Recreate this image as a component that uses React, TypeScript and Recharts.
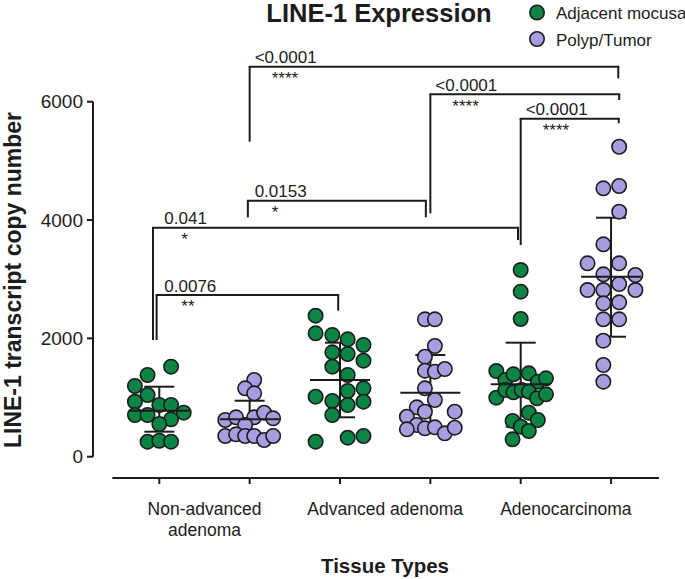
import React from 'react';
import { ScatterChart, Scatter, XAxis, YAxis, ReferenceLine, ErrorBar } from 'recharts';

const W = 685;
const H = 579;
const FONT = '"Liberation Sans", Arial, Helvetica, sans-serif';
const INK = '#1c1c1c';
const GREEN = '#0a8543';
const PURPLE = '#a99de1';

// ---------- data ----------
const categories = ['Non-advanced adenoma', 'Advanced adenoma', 'Adenocarcinoma'];
const categoryLines = [['Non-advanced', 'adenoma'], ['Advanced adenoma'], ['Adenocarcinoma']];
const seriesNames = ['Adjacent mocusa', 'Polyp/Tumor'];
const yTicks = [0, 2000, 4000, 6000];
const groupPositions = [1, 2, 3, 4, 5, 6];

const mucosaNonAdvanced = [1521, 1381, 1195, 1043, 930, 874, 874, 744, 705, 705, 632, 553, 254, 270, 254];
const mucosaNonAdvancedJitter = [0.13, -0.13, -0.27, -0.13, -0.27, 0, 0.13, 0.27, -0.27, -0.13, 0.13, 0, -0.13, 0, 0.13];

const tumorNonAdvanced = [1296, 1156, 1071, 620, 666, 666, 744, 649, 536, 350, 378, 350, 350, 282, 350];
const tumorNonAdvancedJitter = [0.05, -0.05, 0.05, -0.27, -0.15, 0.05, 0.16, 0.26, -0.05, -0.27, -0.15, -0.05, 0.05, 0.16, 0.26];

const mucosaAdvanced = [2383, 2085, 2057, 1984, 1888, 1764, 1736, 1623, 1521, 1381, 1014, 941, 1110, 1156, 874, 930, 705, 254, 321, 350];
const mucosaAdvancedJitter = [-0.27, -0.27, -0.085, 0.085, 0.26, -0.085, 0.085, 0.26, -0.085, 0.085, -0.27, -0.085, 0.085, 0.26, 0.085, 0.26, -0.085, -0.27, 0.085, 0.26];

const tumorAdvanced = [2322, 2322, 1871, 1690, 1454, 1437, 1482, 1156, 958, 835, 761, 761, 676, 536, 463, 480, 497, 395, 490];
const tumorAdvancedJitter = [-0.06, 0.05, 0.05, -0.06, -0.06, 0.05, 0.16, -0.06, 0.05, -0.15, -0.06, 0.27, -0.26, -0.15, -0.26, -0.06, 0.05, 0.16, 0.27];

const mucosaCarcinoma = [3155, 2789, 2327, 1448, 1296, 1392, 1409, 1268, 1325, 997, 1127, 1088, 1127, 1099, 987, 1054, 744, 620, 603, 507, 434, 294];
const mucosaCarcinomaJitter = [0, 0, 0, -0.27, -0.17, -0.08, 0.09, 0.19, 0.28, -0.27, -0.17, -0.08, 0.01, 0.09, 0.18, 0.28, 0.09, 0.19, -0.09, 0, 0.09, -0.09];

const tumorCarcinoma = [5239, 4536, 4575, 4141, 3590, 3268, 3268, 3082, 3071, 2919, 2817, 2817, 2817, 2592, 2609, 2322, 2322, 1961, 1550, 1268];
const tumorCarcinomaJitter = [0.09, -0.085, 0.09, 0.09, -0.085, -0.26, 0.09, -0.085, 0.27, 0.09, -0.26, -0.085, 0.27, -0.085, 0.09, -0.085, 0.09, -0.085, -0.085, -0.085];

const groupMeans = [778, 632, 1296, 1082, 1223, 3042];
const groupUpper = [1183, 946, 1927, 1719, 1927, 4039];
const groupLower = [423, 311, 666, 440, 507, 2028];

const brackets = [
  { p: '<0.0001', stars: '****', x1: 2.0, x2: 6.08, anchor: 2, y: 6592, y1End: 5324, y2End: 6395 },
  { p: '<0.0001', stars: '****', x1: 4.0, x2: 6.09, anchor: 4, y: 6125, y1End: 4114, y2End: 6029 },
  { p: '<0.0001', stars: '****', x1: 5.0, x2: 6.085, anchor: 5, y: 5713, y1End: 3578, y2End: 5635 },
  { p: '0.0153', stars: '*', x1: 1.98, x2: 3.95, anchor: 2, y: 4327, y1End: 4046, y2End: 4046 },
  { p: '0.041', stars: '*', x1: 0.93, x2: 4.97, anchor: 1, y: 3870, y1End: 1972, y2End: 3662 },
  { p: '0.0076', stars: '**', x1: 0.97, x2: 2.98, anchor: 1, y: 2733, y1End: 1972, y2End: 2468 },
];

// ---------- derived ----------
const XMIN = 0.266;
const XMAX = 6.553;
const YMIN = -360;
const YMAX = 7042.8;

const toPoints = (pos: number, vals: number[], jit: number[]) =>
  vals.map((v, i) => ({ x: pos + jit[i], y: v }));

const mucosaPoints = [
  ...toPoints(groupPositions[0], mucosaNonAdvanced, mucosaNonAdvancedJitter),
  ...toPoints(groupPositions[2], mucosaAdvanced, mucosaAdvancedJitter),
  ...toPoints(groupPositions[4], mucosaCarcinoma, mucosaCarcinomaJitter),
];
const tumorPoints = [
  ...toPoints(groupPositions[1], tumorNonAdvanced, tumorNonAdvancedJitter),
  ...toPoints(groupPositions[3], tumorAdvanced, tumorAdvancedJitter),
  ...toPoints(groupPositions[5], tumorCarcinoma, tumorCarcinomaJitter),
];
const summary = groupPositions.map((pos, i) => ({
  x: pos,
  y: groupMeans[i],
  err: [groupMeans[i] - groupLower[i], groupUpper[i] - groupMeans[i]],
}));

const xTicks: number[] = [];
categories.forEach((_, i) => {
  xTicks.push(groupPositions[2 * i], (groupPositions[2 * i] + groupPositions[2 * i + 1]) / 2, groupPositions[2 * i + 1]);
});

const dotShape = (fill: string) => (props: any) => (
  <circle cx={props.cx} cy={props.cy} r={7.2} fill={fill} stroke={INK} strokeWidth={1.6} />
);

const meanShape = (props: any) => (
  <line x1={props.cx - 30} x2={props.cx + 30} y1={props.cy} y2={props.cy} stroke={INK} strokeWidth={2} />
);

const XTick = (props: any) => {
  const { x, y, payload } = props;
  const v = payload.value;
  if (groupPositions.includes(v)) {
    return <line x1={x} x2={x} y1={y} y2={y + 6} stroke={INK} strokeWidth={2} />;
  }
  const idx = Math.round((v - groupPositions[0] - 0.5) / 2);
  const lines = categoryLines[idx] || [];
  return (
    <text x={x} y={y + 37} textAnchor="middle" fontSize={17.5} fill={INK} fontFamily={FONT}>
      {lines.map((l, i) => (
        <tspan key={i} x={x} dy={i === 0 ? 0 : 21}>
          {l}
        </tspan>
      ))}
    </text>
  );
};

const bracketTop = (b: any) => (props: any) => {
  const { x1, x2, y1, y2 } = props;
  const left = Math.min(x1, x2);
  const pxPerUnit = Math.abs(x2 - x1) / (b.x2 - b.x1);
  const anchorPx = left + (b.anchor - b.x1) * pxPerUnit;
  return (
    <g>
      <line x1={x1} x2={x2} y1={y1} y2={y2} stroke={INK} strokeWidth={2} strokeLinecap="square" />
      <text x={anchorPx + 5} y={y1 - 3.4} fontSize={17} fill={INK} fontFamily={FONT}>
        {b.p}
      </text>
      <text x={anchorPx + 22} y={y1 + 17.5} fontSize={17} fill={INK} fontFamily={FONT}>
        {b.stars}
      </text>
    </g>
  );
};

export default function App() {
  return (
    <div style={{ position: 'absolute', left: 0, top: 0, width: W, height: H, background: '#fff' }}>
      <ScatterChart width={W} height={H} margin={{ top: 40, right: 24, bottom: 41, left: 0 }}>
        <XAxis
          type="number"
          dataKey="x"
          domain={[XMIN, XMAX]}
          allowDataOverflow
          ticks={xTicks}
          interval={0}
          tickSize={0}
          tickMargin={0}
          axisLine={false}
          tickLine={false}
          height={60}
          tick={XTick}
        />
        <YAxis
          type="number"
          dataKey="y"
          domain={[YMIN, YMAX]}
          allowDataOverflow
          ticks={yTicks}
          interval={0}
          width={93}
          tickSize={6}
          tickMargin={4}
          axisLine={false}
          tickLine={{ stroke: INK, strokeWidth: 2 }}
          tick={{ fontSize: 19, fill: INK, fontFamily: FONT }}
        />
        <ReferenceLine
          segment={[{ x: XMIN, y: yTicks[0] }, { x: XMIN, y: yTicks[yTicks.length - 1] }]}
          stroke={INK}
          strokeWidth={2}
          ifOverflow="visible"
        />
        <ReferenceLine
          segment={[{ x: 0.48, y: YMIN }, { x: 6.53, y: YMIN }]}
          stroke={INK}
          strokeWidth={2}
          ifOverflow="visible"
        />
        {brackets.map((b, i) => (
          <ReferenceLine
            key={'h' + i}
            segment={[{ x: b.x1, y: b.y }, { x: b.x2, y: b.y }]}
            ifOverflow="visible"
            shape={bracketTop(b)}
          />
        ))}
        {brackets.map((b, i) => (
          <ReferenceLine
            key={'l' + i}
            segment={[{ x: b.x1, y: b.y }, { x: b.x1, y: b.y1End }]}
            stroke={INK}
            strokeWidth={2}
            ifOverflow="visible"
          />
        ))}
        {brackets.map((b, i) => (
          <ReferenceLine
            key={'r' + i}
            segment={[{ x: b.x2, y: b.y }, { x: b.x2, y: b.y2End }]}
            stroke={INK}
            strokeWidth={2}
            ifOverflow="visible"
          />
        ))}
        <Scatter name={seriesNames[0]} data={mucosaPoints} shape={dotShape(GREEN)} isAnimationActive={false} />
        <Scatter name={seriesNames[1]} data={tumorPoints} shape={dotShape(PURPLE)} isAnimationActive={false} />
        <Scatter name="mean" data={summary} shape={meanShape} isAnimationActive={false}>
          <ErrorBar dataKey="err" direction="y" width={15} stroke={INK} strokeWidth={2} isAnimationActive={false} />
        </Scatter>
      </ScatterChart>
      <svg
        width={W}
        height={H}
        style={{ position: 'absolute', left: 0, top: 0, pointerEvents: 'none' }}
      >
        <text x={379} y={22} textAnchor="middle" fontSize={25.5} fontWeight="bold" fill={INK} fontFamily={FONT}>
          LINE-1 Expression
        </text>
        <circle cx={537} cy={12.5} r={7.2} fill={GREEN} stroke={INK} strokeWidth={1.6} />
        <text x={556} y={19} fontSize={17} fill={INK} fontFamily={FONT}>
          {seriesNames[0]}
        </text>
        <circle cx={537} cy={39} r={7.2} fill={PURPLE} stroke={INK} strokeWidth={1.6} />
        <text x={556} y={45.5} fontSize={17} fill={INK} fontFamily={FONT}>
          {seriesNames[1]}
        </text>
        <text
          transform="translate(21,280) rotate(-90)"
          textAnchor="middle"
          fontSize={23}
          fontWeight="bold"
          fill={INK}
          fontFamily={FONT}
        >
          LINE-1 transcript copy number
        </text>
        <text x={385} y={573} textAnchor="middle" fontSize={20.5} fontWeight="bold" fill={INK} fontFamily={FONT}>
          Tissue Types
        </text>
      </svg>
    </div>
  );
}
